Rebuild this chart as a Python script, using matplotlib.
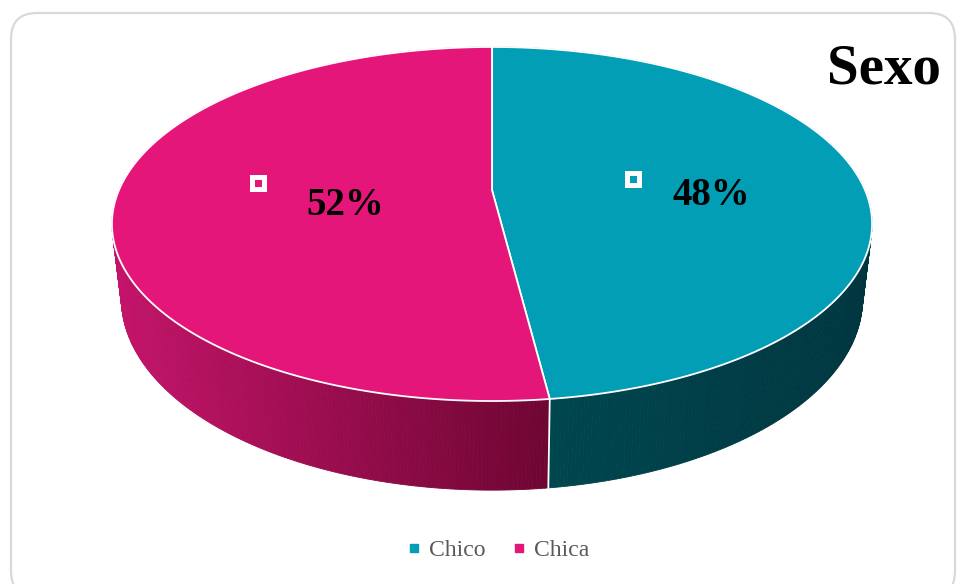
import numpy as np
import matplotlib
matplotlib.use("Agg")
import matplotlib.pyplot as plt
from matplotlib.patches import Polygon, FancyBboxPatch
from matplotlib.lines import Line2D
from matplotlib.colors import to_rgb

# ---- data ----
categories = ["Chico", "Chica"]
values = [48, 52]
value_labels = ["48%", "52%"]
title = "Sexo"

# ---- style ----
top_colors = ["#019EB6", "#E5167A"]
# side gradient colours (left end, right end) for each slice
side_grad = [("#00464F", "#00363F"), ("#C4146A", "#6C0530")]
SERIF = "Liberation Serif"

# perspective disc geometry (pixel space)
CX, CY = 492.0, 190.0
A, B, K = 373.0, 170.5, 0.192
H = 72.0
SHRINK = 0.975


def rim(theta_deg, bottom=False):
    t = np.radians(theta_deg)
    u, v = np.sin(t), np.cos(t)
    w = 1 + K * v
    x = CX + A * u / w
    y = CY - B * v / w
    if bottom:
        x = CX + (x - CX) * SHRINK
        y = y + H / w
    return x, y


fig = plt.figure(figsize=(9.6, 5.84), dpi=100)
ax = fig.add_axes([0, 0, 1, 1])
ax.set_xlim(0, 960)
ax.set_ylim(584, 0)
ax.axis("off")

# rounded chart frame
frame = FancyBboxPatch((11, 13), 944, 584, boxstyle="round,pad=0,rounding_size=26",
                       fc="white", ec="#D9D9D9", lw=1.6, zorder=0)
ax.add_patch(frame)

total = float(sum(values))
bounds = np.concatenate([[0], np.cumsum(values) / total * 360.0])

# side walls: thin strips, drawn back to front
strips = []
for i in range(len(values)):
    a0, a1 = bounds[i], bounds[i + 1]
    angs = np.linspace(a0, a1, int((a1 - a0) / 0.5) + 2)
    x_lo, x_hi = (560.0, 872.0) if i == 0 else (112.0, 560.0)
    c_l, c_r = np.array(to_rgb(side_grad[i][0])), np.array(to_rgb(side_grad[i][1]))
    for t0, t1 in zip(angs[:-1], angs[1:]):
        p0t, p1t = rim(t0), rim(t1)
        p1b, p0b = rim(t1, True), rim(t0, True)
        xm = 0.5 * (p0t[0] + p1t[0])
        f = np.clip((xm - x_lo) / (x_hi - x_lo), 0, 1)
        col = c_l + (c_r - c_l) * f
        depth = np.cos(np.radians(0.5 * (t0 + t1)))
        strips.append((depth, [p0t, p1t, p1b, p0b], col))
strips.sort(key=lambda s: -s[0])
for _, pts, col in strips:
    ax.add_patch(Polygon(pts, closed=True, fc=col, ec=col, lw=0.6, zorder=2))

# white seam on the wall where the slices meet at the front
for b in bounds[1:-1]:
    xt, yt = rim(b)
    xb, yb = rim(b, True)
    ax.plot([xt, xb], [yt, yb], color="white", lw=1.3, zorder=3)

# top faces
for i in range(len(values)):
    a0, a1 = bounds[i], bounds[i + 1]
    angs = np.linspace(a0, a1, 300)
    xs, ys = rim(angs)
    pts = np.column_stack([np.r_[CX, xs], np.r_[CY, ys]])
    ax.add_patch(Polygon(pts, closed=True, fc=top_colors[i], ec="white",
                         lw=1.3, joinstyle="round", zorder=4))

# data labels with their marker keys
marker_pos = [(633, 178.5), (258, 183)]
label_pos = [(711, 205), (345, 215)]
for i in range(len(values)):
    ax.plot(*marker_pos[i], marker="s", ms=8.0, mfc=top_colors[i], mec="white",
            mew=3.6, zorder=6)
    ax.text(label_pos[i][0], label_pos[i][1], value_labels[i], ha="center",
            va="baseline", fontsize=28, fontweight="bold", family=SERIF,
            color="black", zorder=6)

# title
ax.text(827, 84, title, ha="left", va="baseline", fontsize=41, fontweight="bold",
        family=SERIF, color="black", zorder=6)

# legend
handles = [Line2D([], [], ls="", marker="s", ms=6.0, mfc=c, mec=c) for c in top_colors]
leg = ax.legend(handles, categories, ncol=2, frameon=False, loc="center",
                bbox_to_anchor=(497 / 960, 1 - 550 / 584),
                prop={"family": SERIF, "size": 17}, labelcolor="#595959",
                handletextpad=0.25, columnspacing=1.0, handlelength=0.8)

fig.savefig("out.png", dpi=100)
